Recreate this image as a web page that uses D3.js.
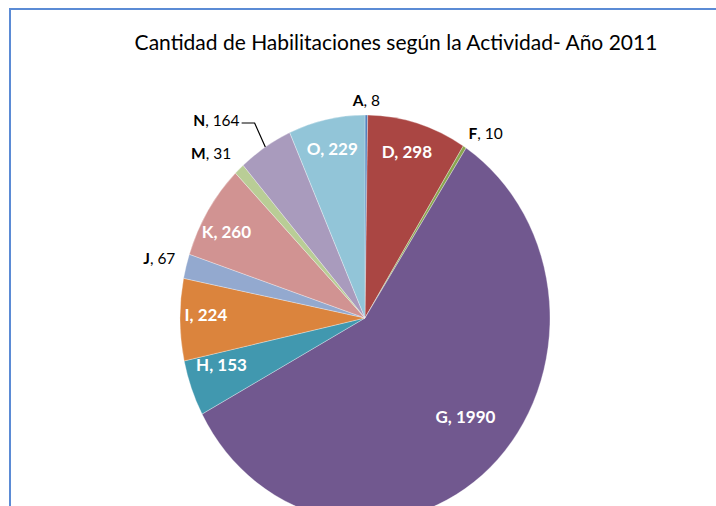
<!doctype html>
<html>
<head>
<meta charset="utf-8">
<script src="https://d3js.org/d3.v7.min.js"></script>
<style>
  body { margin: 0; background: #fff; }
  text { font-family: Lato, "Open Sans", sans-serif; }
</style>
</head>
<body>
<div id="chart"></div>
<script>
var categories = ["A", "D", "F", "G", "H", "I", "J", "K", "M", "N", "O"];
var values = [8, 298, 10, 1990, 153, 224, 67, 260, 31, 164, 229];
var colors = ["#4F81BD", "#AA4643", "#89A54E", "#71588F", "#4198AF", "#DB843D",
              "#93A9CF", "#D19392", "#B9CD96", "#A99BBD", "#92C5D8"];
var title = "Cantidad de Habilitaciones según la Actividad- Año 2011";

var width = 716, height = 506;
var cx = 365, cy = 318, r = 185, squash = 1.097;

// where each label sits: radius as a fraction of r, angle nudge in degrees
var labelSpot = {
  A: {k: 1.07, out: true},
  D: {k: 0.85, da: -1},
  F: {k: 1.12, out: true, da: 3},
  G: {k: 0.73, da: -5.5},
  H: {k: 0.81, da: 3.5},
  I: {k: 0.86, da: 1.5},
  J: {k: 1.15, out: true},
  K: {k: 0.86, da: -2.5},
  M: {k: 1.16, out: true, da: -3},
  N: {k: 1.26, out: true, da: -7, leader: true},
  O: {k: 0.85}
};

var svg = d3.select("#chart").append("svg")
    .attr("width", width)
    .attr("height", height);

svg.append("rect")
    .attr("x", 10).attr("y", 9)
    .attr("width", 730).attr("height", 520)
    .attr("fill", "none")
    .attr("stroke", "#5B8BD5")
    .attr("stroke-width", 2);

svg.append("text")
    .attr("x", 396).attr("y", 50)
    .attr("text-anchor", "middle")
    .attr("font-size", 21)
    .attr("fill", "#000")
    .text(title);

var data = categories.map(function (c, i) { return {name: c, value: values[i], color: colors[i]}; });

var pie = d3.pie().sort(null).value(function (d) { return d.value; });
var arcs = pie(data);
var arc = d3.arc().innerRadius(0).outerRadius(r);

var g = svg.append("g")
    .attr("transform", "translate(" + cx + "," + cy + ") scale(1," + squash + ")");

g.selectAll("path")
    .data(arcs)
    .enter().append("path")
    .attr("d", arc)
    .attr("fill", function (d) { return d.data.color; })
    .attr("stroke", "#fff")
    .attr("stroke-width", 0.5)
    .attr("stroke-opacity", 0.6);

function spot(angle, k) {
    return [cx + Math.sin(angle) * r * k, cy - Math.cos(angle) * r * k * squash];
}

var labels = svg.append("g");
arcs.forEach(function (d) {
    var s = labelSpot[d.data.name];
    var mid = (d.startAngle + d.endAngle) / 2;
    var a = mid + (s.da || 0) * Math.PI / 180;
    var p = spot(a, s.k);
    var t = labels.append("text")
        .attr("x", p[0]).attr("y", p[1])
        .attr("dy", "0.35em")
        .attr("text-anchor", "middle");
    if (s.out) {
        t.attr("fill", "#000").attr("font-size", 15.5);
        t.append("tspan").attr("font-weight", "bold").text(d.data.name);
        t.append("tspan").text(", " + d.data.value);
    } else {
        t.attr("fill", "#fff").attr("font-weight", "bold").attr("font-size", 17)
            .text(d.data.name + ", " + d.data.value);
    }
    if (s.leader) {
        var e = spot(mid, 1);
        var box = t.node().getBBox();
        var lx = box.x + box.width + 2, ly = p[1] + 2;
        labels.append("path")
            .attr("d", "M" + lx + "," + ly + "H" + (lx + 13) + "L" + e[0] + "," + e[1])
            .attr("fill", "none")
            .attr("stroke", "#000")
            .attr("stroke-width", 1.2);
    }
});
</script>
</body>
</html>
